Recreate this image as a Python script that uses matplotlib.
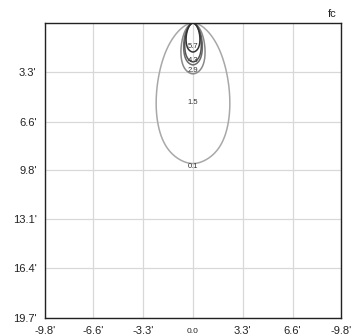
import numpy as np
import matplotlib
matplotlib.use("Agg")
import matplotlib.pyplot as plt
from matplotlib.transforms import ScaledTranslation

plt.rcParams['font.family'] = ['Liberation Sans', 'DejaVu Sans']

# Axis ticks (feet)
x_ticks = [-9.8, -6.6, -3.3, 0.0, 3.3, 6.6, 9.8]
x_tick_labels = ["-9.8'", "-6.6'", "-3.3'", "0.0", "3.3'", "6.6'", "-9.8'"]
y_ticks = [3.3, 6.6, 9.8, 13.1, 16.4, 19.7]
y_tick_labels = ["3.3'", "6.6'", "9.8'", "13.1'", "16.4'", "19.7'"]

# Iso-footcandle contours: depth below fixture and half-width (feet)
contour_levels = [0.1, 2.9, 4.3, 4.3, 5.7]
contour_depth = [9.4, 3.4, 2.8, 2.6, 1.94]
contour_halfwidth = [2.44, 0.80, 0.62, 0.55, 0.46]
contour_colors = ['#a8a8a8', '#8a8a8a', '#6a6a6a', '#555555', '#333333']

# Contour labels along the centre line
label_values = ["5.7", "4.3", "2.9", "1.5", "0.1"]
label_depth = [1.55, 2.5, 3.2, 5.35, 9.6]

fig = plt.figure(figsize=(3.56, 3.36), dpi=100)
ax = fig.add_axes([45 / 356, 1 - 317.5 / 336, (341 - 45) / 356, (317.5 - 23) / 336])

ax.set_xlim(-9.8, 9.8)
ax.set_ylim(19.7, 0)

ax.set_xticks(x_ticks)
ax.set_xticklabels(x_tick_labels, fontsize=8)
ax.set_yticks(y_ticks)
ax.set_yticklabels(y_tick_labels, fontsize=8)
ax.tick_params(length=0, pad=6, colors='#222222')
ax.grid(True, color='#d8d8d8', linewidth=0.9)
ax.set_axisbelow(True)
for s in ax.spines.values():
    s.set_color('#222222')
    s.set_linewidth(1)

# smaller, lowered "0.0" label
lab = ax.get_xticklabels()[3]
lab.set_fontsize(6)
lab.set_transform(lab.get_transform() + ScaledTranslation(0, -1.5 / 72, fig.dpi_scale_trans))

t = np.linspace(0, 2 * np.pi, 400)
for lvl, d, w, c in zip(contour_levels, contour_depth, contour_halfwidth, contour_colors):
    xs = w * np.sin(t) * (1 - 0.12 * np.cos(t) ** 8)
    ys = d * (1 - np.cos(t)) / 2 + 0.07 * d * np.sin(t) ** 2
    ax.plot(xs, ys, color=c, linewidth=1.1)

for txt, dy in zip(label_values, label_depth):
    ax.text(0, dy, txt, ha='center', va='center', fontsize=5.5, color='#333333')

fig.text(337 / 356, 1 - 14 / 336, 'fc', ha='right', va='center', fontsize=8, color='#222222')

fig.savefig('out.png', dpi=100)
